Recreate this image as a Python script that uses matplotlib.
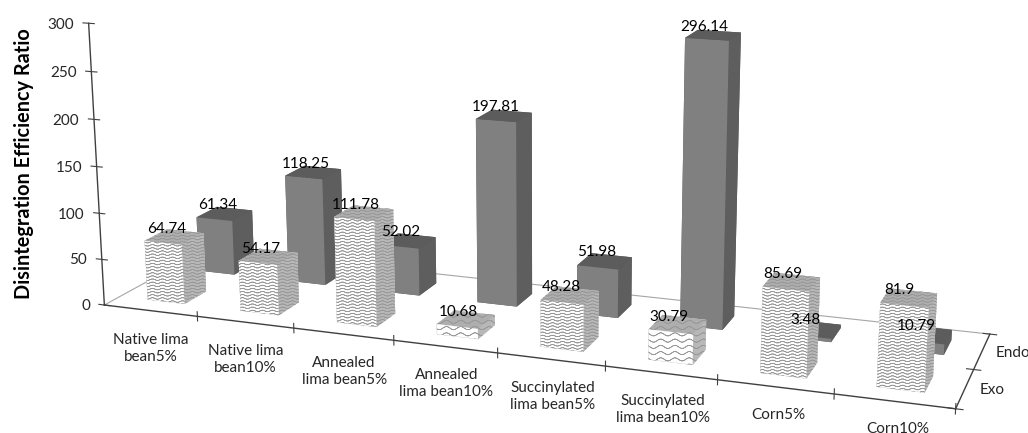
import matplotlib
matplotlib.use('Agg')
import matplotlib.pyplot as plt
import matplotlib.hatch as mhatch
from matplotlib.path import Path
import numpy as np

categories = ['Native lima\nbean5%', 'Native lima\nbean10%', 'Annealed\nlima bean5%', 'Annealed\nlima bean10%',
              'Succinylated\nlima bean5%', 'Succinylated\nlima bean10%', 'Corn5%', 'Corn10%']
exo = [64.74, 54.17, 111.78, 10.68, 48.28, 30.79, 85.69, 81.9]
endo = [61.34, 118.25, 52.02, 197.81, 51.98, 296.14, 3.48, 10.79]
series = ['Exo', 'Endo']
yticks = [0, 50, 100, 150, 200, 250, 300]

# where some chart points sit in the picture, used to work out the camera (x, depth, value, px, py)
calib = [(0, 0, 0, 105, 305), (1, 0, 0, 197, 317), (2, 0, 0, 293, 330), (3, 0, 0, 393, 341),
         (7, 0, 0, 834, 396), (8, 0, 0, 957, 410), (8, 1, 0, 973, 369), (8, 2, 0, 990, 335),
         (0, 2, 0, 206, 249), (0, 0, 250, 92, 72), (0, 0, 300, 87, 23),
         (5.7, 1.29, 0, 723, 329), (5.7, 1.29, 296.14, 729, 41), (5.7, 1.71, 296.14, 741, 33),
         (5.3, 1.29, 296.14, 686, 38), (0.7, 0.29, 0, 184, 303), (0.7, 0.29, 64.74, 183, 243),
         (0.3, 0.29, 64.74, 146, 241), (0.3, 0.29, 0, 148, 299), (7.3, 0.29, 81.9, 880, 303),
         (7.7, 0.29, 81.9, 927, 305), (7.3, 0.29, 0, 877, 386), (7.7, 0.29, 0, 925, 392)]


# wavy hatch, matplotlib has no such pattern. Goes forth and back so the path has no area to fill.
# 'z' is the fine wave, 'Z' the coarse one that the two flat bars have
class Wave(mhatch.HatchPatternBase):
    def __init__(self, hatch, density):
        self.num_lines = (hatch.count('z') + hatch.count('Z')) * density // 3
        self.coarse = 'Z' in hatch
        self.num_vertices = self.num_lines * 122

    def set_vertices_and_codes(self, vertices, codes):
        t = np.linspace(0, 1, 61)
        waves, amp = (7, 0.016) if self.coarse else (10, 0.008)
        k = 0
        for i in range(self.num_lines):
            y = (i + 0.5) / self.num_lines + amp * np.sin(2 * waves * np.pi * t)
            vertices[k:k + 122, 0] = np.r_[t, t[::-1]]
            vertices[k:k + 122, 1] = np.r_[y, y[::-1]]
            codes[k:k + 122] = Path.LINETO
            codes[k] = Path.MOVETO
            k += 122


mhatch._hatch_types.append(Wave)
plt.rcParams['hatch.linewidth'] = 0.5
plt.rcParams['font.family'] = ['Lato', 'DejaVu Sans']

fig = plt.figure(figsize=(10.28, 4.33), dpi=100)
ax = fig.add_axes([0, 0, 1, 1], projection='3d')
ax.computed_zorder = False
# 3d axes shrink to a square by default, this one needs the full figure
ax.apply_aspect = lambda position=None: None

# fit the picture's perspective by least squares
rows = []
rhs = []
for X, Y, Z, u, v in calib:
    Z = Z / 100
    rows.append([X, Y, Z, 1, 0, 0, 0, 0, -u * X, -u * Y, -u * Z])
    rows.append([0, 0, 0, 0, X, Y, Z, 1, -v * X, -v * Y, -v * Z])
    rhs += [u, v]
p = np.linalg.lstsq(np.array(rows, dtype=float), np.array(rhs, dtype=float), rcond=None)[0]
P = np.append(p, 1).reshape(3, 4)
P[:, 2] /= 100


def fitted_proj():
    inv = ax.transData.inverted()
    o = inv.transform((0, 433))
    e = inv.transform((1, 432))
    m = np.zeros((4, 4))
    m[0] = (e[0] - o[0]) * P[0] + o[0] * P[2]
    m[1] = (e[1] - o[1]) * P[1] + o[1] * P[2]
    # depth only decides which face is painted first. Has to stay negative or lines get clipped
    m[2] = np.array([-0.05, 1, -0.005, 0]) - 10 * P[2]
    m[3] = P[2]
    return m


ax.get_proj = fitted_proj

n = len(categories)
bar_w = 0.4
bar_d = 0.42
for i in range(n):
    ax.bar3d(i + 0.3, 1.29, 0, bar_w, bar_d, endo[i], shade=False, edgecolor='none',
             color=['#5a5a5a', '#5c5c5c', '#808080', '#5a5a5a', '#5a5a5a', '#5e5e5e'])
for i in range(n):
    ax.bar3d(i + 0.3, 0.29, 0, bar_w, bar_d, exo[i], shade=False, edgecolor='#999999', linewidth=0.1,
             color=['white', '#aeaeae', 'white', 'white', 'white', '#b8b8b8'],
             hatch='Z' * 8 if exo[i] < 35 else 'z' * 16)

for i in range(n):
    ax.text(i + 0.42, 1.5, endo[i] + 1, str(endo[i]), fontsize=11, ha='center', va='bottom', zorder=50)
    ax.text(i + 0.42, 0.5, exo[i], str(exo[i]), fontsize=11, ha='center', va='bottom', zorder=50)

ax.set_xlim(0, n)
ax.set_ylim(0, 2)
ax.set_zlim(0, 300)
ax.set_xticks([])
ax.set_yticks([])
ax.set_zticks([])
ax.set_axis_off()

# floor and axes
dark = '#404040'
ax.plot([0, 0], [0, 2], [0, 0], color='#a6a6a6', lw=0.8, zorder=0.5)
ax.plot([0, n], [2, 2], [0, 0], color='#a6a6a6', lw=0.8, zorder=0.5)
ax.plot([0, n], [0, 0], [0, 0], color=dark, lw=1, zorder=0.5)
ax.plot([n, n], [0, 2], [0, 0], color=dark, lw=1, zorder=0.5)
ax.plot([0, 0], [0, 0], [0, 300], color=dark, lw=1, zorder=0.5)
for v in yticks:
    ax.plot([-0.06, 0.06], [0, 0], [v, v], color=dark, lw=0.8, zorder=0.5)
    ax.text(-0.16, 0, v - 3, str(v), fontsize=11, ha='right', va='center', color='#262626')
for i in range(1, n + 1):
    ax.plot([i, i], [0, 0], [-5, 5], color=dark, lw=0.8, zorder=0.5)
for i, c in enumerate(categories):
    ax.text(i + 0.55, -0.1, -20 + 0.7 * i, c, fontsize=11, ha='center', va='top', color='#262626', linespacing=1.3)
for j in range(3):
    ax.plot([n - 0.06, n + 0.06], [j, j], [0, 0], color=dark, lw=0.8, zorder=0.5)
for j, s in enumerate(series):
    ax.text(n + 0.12, j + 0.5, 0, s, fontsize=11, ha='left', va='center', color='#262626')

fig.text(24 / 1028, 1 - 164 / 433, 'Disintegration Efficiency Ratio', rotation=90, fontsize=14.3, fontweight='bold',
         ha='center', va='center')
fig.savefig('out.png', dpi=100)
